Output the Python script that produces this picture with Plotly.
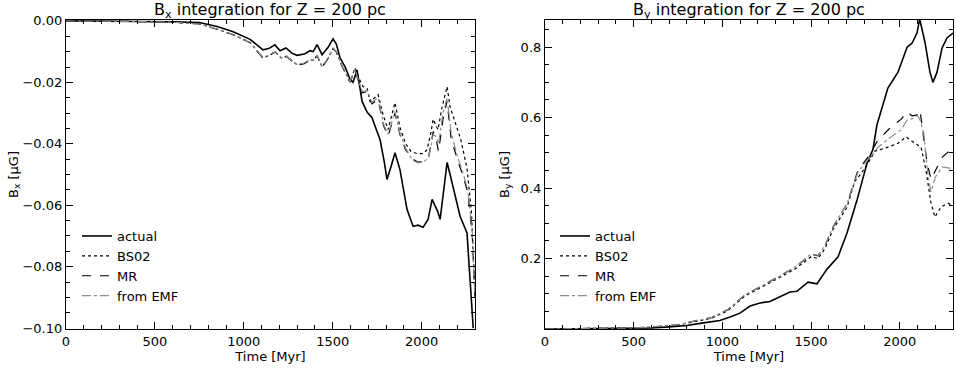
import plotly.graph_objects as go

# ---- left panel: B_x (muG) vs time (Myr) ----
bx_actual_t = [0, 200, 400, 600, 750, 850, 940, 1035, 1108, 1140, 1175, 1204, 1237, 1270, 1299,
               1340, 1372, 1390, 1412, 1440, 1475, 1502, 1520, 1541, 1570, 1597, 1614, 1637, 1665,
               1693, 1721, 1749, 1766, 1790, 1805, 1830, 1850, 1878, 1918, 1952, 1980, 2008, 2036,
               2059, 2075, 2090, 2104, 2125, 2143, 2160, 2177, 2216, 2255, 2272, 2290]
bx_actual = [0.0, 0.0, -0.0002, -0.0003, -0.0005, -0.0018, -0.0035, -0.0060, -0.0094, -0.0090,
             -0.0078, -0.0097, -0.0088, -0.0105, -0.0112, -0.0108, -0.0097, -0.0100, -0.0077,
             -0.0110, -0.0085, -0.0058, -0.0075, -0.0120, -0.0150, -0.0190, -0.0200, -0.0160,
             -0.0262, -0.0297, -0.0315, -0.0360, -0.0386, -0.0460, -0.0516, -0.0470, -0.0429,
             -0.0484, -0.0614, -0.0669, -0.0665, -0.0672, -0.0646, -0.0581, -0.0600, -0.0620,
             -0.0646, -0.0540, -0.0461, -0.0500, -0.0539, -0.0636, -0.0690, -0.0825, -0.1000]

bx_bs02_t = [0, 200, 400, 600, 750, 850, 940, 1035, 1108, 1140, 1177, 1210, 1240, 1299, 1340,
             1372, 1392, 1412, 1440, 1475, 1502, 1520, 1550, 1597, 1625, 1650, 1670, 1693, 1710,
             1755, 1783, 1811, 1850, 1878, 1910, 1940, 1975, 2008, 2030, 2050, 2065, 2080, 2092,
             2115, 2143, 2160, 2195, 2220, 2255, 2280, 2300]
bx_bs02 = [0.0, 0.0, -0.0002, -0.0004, -0.0010, -0.0027, -0.0045, -0.0070, -0.0120, -0.0113,
           -0.0100, -0.0121, -0.0115, -0.0143, -0.0138, -0.0127, -0.0128, -0.0112, -0.0150,
           -0.0120, -0.0090, -0.0100, -0.0143, -0.0198, -0.0153, -0.0190, -0.0214, -0.0220,
           -0.0263, -0.0240, -0.0305, -0.0354, -0.0266, -0.0347, -0.0400, -0.0425, -0.0432,
           -0.0432, -0.0420, -0.0370, -0.0320, -0.0340, -0.0354, -0.0280, -0.0214, -0.0280,
           -0.0340, -0.0386, -0.0480, -0.0620, -0.0900]

bx_mr_t = [0, 200, 400, 600, 750, 850, 940, 1035, 1108, 1140, 1177, 1210, 1240, 1299, 1340,
           1372, 1392, 1412, 1440, 1475, 1502, 1520, 1550, 1597, 1625, 1665, 1693, 1720, 1755,
           1785, 1811, 1850, 1878, 1910, 1950, 1980, 2008, 2040, 2065, 2080, 2095, 2120, 2143,
           2165, 2200, 2230, 2260, 2285, 2300]
bx_mr = [0.0, 0.0, -0.0002, -0.0004, -0.0010, -0.0027, -0.0045, -0.0071, -0.0121, -0.0114,
         -0.0101, -0.0122, -0.0116, -0.0144, -0.0139, -0.0128, -0.0129, -0.0113, -0.0151,
         -0.0121, -0.0091, -0.0101, -0.0145, -0.0200, -0.0160, -0.0235, -0.0230, -0.0270,
         -0.0255, -0.0340, -0.0375, -0.0300, -0.0370, -0.0420, -0.0450, -0.0460, -0.0458,
         -0.0440, -0.0360, -0.0380, -0.0425, -0.0320, -0.0260, -0.0380, -0.0450, -0.0500,
         -0.0560, -0.0700, -0.0900]

bx_emf_t = [0, 200, 400, 600, 750, 850, 940, 1035, 1108, 1140, 1177, 1210, 1240, 1299, 1340,
            1372, 1392, 1412, 1440, 1475, 1502, 1520, 1550, 1597, 1625, 1665, 1693, 1720, 1755,
            1785, 1811, 1850, 1878, 1910, 1950, 1980, 2008, 2040, 2065, 2080, 2095, 2120, 2143,
            2165, 2200, 2230, 2260, 2285, 2300]
bx_emf = [0.0, 0.0, -0.0002, -0.0004, -0.0010, -0.0026, -0.0044, -0.0070, -0.0119, -0.0112,
          -0.0100, -0.0120, -0.0114, -0.0142, -0.0137, -0.0126, -0.0127, -0.0111, -0.0149,
          -0.0119, -0.0089, -0.0099, -0.0143, -0.0197, -0.0157, -0.0230, -0.0226, -0.0265,
          -0.0250, -0.0335, -0.0370, -0.0295, -0.0365, -0.0415, -0.0455, -0.0462, -0.0460,
          -0.0445, -0.0370, -0.0375, -0.0400, -0.0300, -0.0250, -0.0360, -0.0440, -0.0490,
          -0.0550, -0.0690, -0.0900]

# ---- right panel: B_y (muG) vs time (Myr) ----
by_actual_t = [0, 300, 500, 600, 700, 800, 874, 936, 986, 1043, 1099, 1156, 1212, 1268, 1325,
               1381, 1420, 1483, 1533, 1590, 1652, 1690, 1702, 1759, 1815, 1849, 1871, 1933,
               1962, 1990, 2041, 2069, 2097, 2112, 2142, 2170, 2187, 2210, 2238, 2266, 2300]
by_actual = [0.0, 0.0005, 0.001, 0.003, 0.006, 0.010, 0.016, 0.021, 0.024, 0.034, 0.045, 0.065,
             0.074, 0.078, 0.091, 0.105, 0.107, 0.133, 0.128, 0.170, 0.205, 0.252, 0.272, 0.366,
             0.470, 0.510, 0.579, 0.684, 0.706, 0.729, 0.800, 0.811, 0.840, 0.880, 0.814, 0.729,
             0.700, 0.729, 0.797, 0.826, 0.840]

by_bs02_t = [0, 300, 500, 600, 750, 874, 936, 1031, 1127, 1218, 1313, 1409, 1500, 1539, 1578,
             1624, 1702, 1747, 1781, 1820, 1860, 1933, 1990, 2035, 2086, 2120, 2148, 2175, 2198,
             2232, 2272, 2300]
by_bs02 = [0.0, 0.001, 0.003, 0.005, 0.011, 0.024, 0.030, 0.052, 0.094, 0.118, 0.143, 0.170,
           0.205, 0.200, 0.228, 0.283, 0.345, 0.420, 0.440, 0.470, 0.505, 0.516, 0.527, 0.545,
           0.527, 0.516, 0.450, 0.360, 0.318, 0.346, 0.357, 0.350]

by_mr_t = [0, 300, 500, 600, 750, 874, 936, 1031, 1127, 1218, 1313, 1409, 1500, 1539, 1578,
           1624, 1702, 1764, 1821, 1877, 1950, 2007, 2041, 2069, 2095, 2114, 2130, 2153, 2176,
           2200, 2240, 2272, 2300]
by_mr = [0.0, 0.001, 0.003, 0.006, 0.012, 0.026, 0.032, 0.055, 0.097, 0.121, 0.147, 0.175,
         0.212, 0.208, 0.236, 0.290, 0.355, 0.450, 0.488, 0.536, 0.573, 0.595, 0.616, 0.605,
         0.607, 0.621, 0.560, 0.474, 0.425, 0.450, 0.488, 0.502, 0.499]

by_emf_t = [0, 300, 500, 600, 750, 874, 936, 1031, 1127, 1218, 1313, 1409, 1500, 1539, 1578,
            1624, 1702, 1764, 1821, 1878, 1950, 2007, 2041, 2080, 2100, 2114, 2135, 2160, 2176,
            2200, 2240, 2272, 2300]
by_emf = [0.0, 0.001, 0.003, 0.006, 0.012, 0.026, 0.032, 0.055, 0.097, 0.121, 0.147, 0.176,
          0.213, 0.209, 0.237, 0.290, 0.355, 0.445, 0.480, 0.516, 0.545, 0.565, 0.593, 0.598,
          0.607, 0.593, 0.556, 0.431, 0.389, 0.431, 0.460, 0.457, 0.455]

series_names = ["actual", "BS02", "MR", "from EMF"]
FONT = "DejaVu Sans, Liberation Sans, sans-serif"

W, H = 956, 368


def px(x):
    return x / W


def py(y):
    return 1 - y / H


styles = [
    dict(color="black", width=1.6, dash="solid"),
    dict(color="black", width=1.2, dash="dot"),
    dict(color="black", width=1.2, dash="dash"),
    dict(color="#8c8c8c", width=1.2, dash="dashdot"),
]

fig = go.Figure()

left = [(bx_actual_t, bx_actual), (bx_bs02_t, bx_bs02), (bx_mr_t, bx_mr), (bx_emf_t, bx_emf)]
right = [(by_actual_t, by_actual), (by_bs02_t, by_bs02), (by_mr_t, by_mr), (by_emf_t, by_emf)]

for (t, v), name, st in zip(left, series_names, styles):
    fig.add_trace(go.Scatter(x=t, y=v, mode="lines", name=name, line=st,
                             xaxis="x", yaxis="y", legend="legend"))
for (t, v), name, st in zip(right, series_names, styles):
    fig.add_trace(go.Scatter(x=t, y=v, mode="lines", name=name, line=st,
                             xaxis="x2", yaxis="y2", legend="legend2"))

axis_common = dict(showline=True, linecolor="black", linewidth=1.2, mirror="ticks",
                   ticks="inside", ticklen=7, tickcolor="black", showgrid=False,
                   zeroline=False, automargin=False,
                   tickfont=dict(size=13, color="black", family=FONT))

xaxis_common = dict(axis_common, range=[0, 2300], tickvals=[0, 500, 1000, 1500, 2000],
                    minor=dict(ticks="inside", ticklen=4, dtick=100, tick0=0, tickcolor="black"),
                    title=dict(text="Time [Myr]", font=dict(size=13, family=FONT), standoff=0))

ydom = [py(329), py(20)]

legend_common = dict(xanchor="left", yanchor="top", bgcolor="rgba(0,0,0,0)",
                     font=dict(size=13, family=FONT), itemwidth=30, tracegroupgap=0)

fig.update_layout(
    width=W, height=H,
    margin=dict(l=0, r=0, t=0, b=0, autoexpand=False),
    paper_bgcolor="white", plot_bgcolor="white",
    font=dict(family=FONT, color="black", size=13),
    showlegend=True,
    xaxis=dict(xaxis_common, domain=[px(66), px(475)], anchor="y"),
    yaxis=dict(axis_common, domain=ydom, anchor="x", range=[-0.1003, 0.0003],
               tickvals=[-0.10, -0.08, -0.06, -0.04, -0.02, 0.0], tickformat=".2f",
               minor=dict(ticks="inside", ticklen=4, dtick=0.005, tick0=0, tickcolor="black"),
               title=dict(text="B<sub>x</sub> [μG]", font=dict(size=13, family=FONT), standoff=0)),
    xaxis2=dict(xaxis_common, domain=[px(545), px(953)], anchor="y2"),
    yaxis2=dict(axis_common, domain=ydom, anchor="x2", range=[0, 0.877],
                tickvals=[0.2, 0.4, 0.6, 0.8], tickformat=".1f",
                minor=dict(ticks="inside", ticklen=4, dtick=0.05, tick0=0, tickcolor="black"),
                title=dict(text="B<sub>y</sub> [μG]", font=dict(size=13, family=FONT), standoff=8)),
    legend=dict(legend_common, x=px(77), y=py(221)),
    legend2=dict(legend_common, x=px(555), y=py(221)),
    annotations=[
        dict(text="B<sub>x</sub> integration for Z = 200 pc", x=px(270), y=py(10),
             xref="paper", yref="paper", xanchor="center", yanchor="middle",
             showarrow=False, font=dict(size=16, family=FONT)),
        dict(text="B<sub>y</sub> integration for Z = 200 pc", x=px(749), y=py(10),
             xref="paper", yref="paper", xanchor="center", yanchor="middle",
             showarrow=False, font=dict(size=16, family=FONT)),
    ],
)

# the default page has an 8px body margin; drop it so the figure fills the window
fig.write_html("out.html", config={"displayModeBar": False},
               post_script="document.body.style.margin='0';document.body.style.overflow='hidden';")
